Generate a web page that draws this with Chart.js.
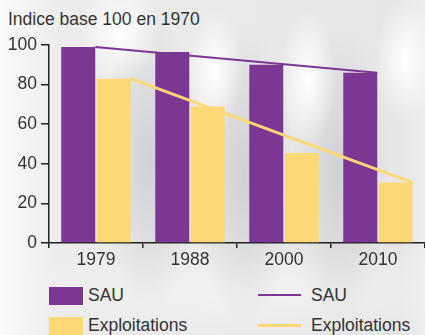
<!DOCTYPE html>
<html>
<head>
<meta charset="utf-8">
<script src="https://cdn.jsdelivr.net/npm/chart.js@4"></script>
<style>
  html, body { margin: 0; padding: 0; }
  body {
    width: 425px; height: 335px; overflow: hidden; position: relative;
    font-family: "Liberation Sans", Arial, sans-serif; color: #333;
    background:
      radial-gradient(ellipse 28px 60px at 215px 70px, #ffffff, rgba(255,255,255,0)),
      radial-gradient(ellipse 28px 70px at 308px 80px, #ffffff, rgba(255,255,255,0)),
      radial-gradient(ellipse 30px 60px at 405px 60px, #ffffff, rgba(255,255,255,0)),
      radial-gradient(ellipse 40px 50px at 120px 30px, #ffffff, rgba(255,255,255,0)),
      radial-gradient(ellipse 50px 150px at 150px 160px, #cfd0d2, rgba(230,230,230,0)),
      radial-gradient(ellipse 50px 150px at 245px 175px, #cfd0d2, rgba(230,230,230,0)),
      radial-gradient(ellipse 50px 150px at 340px 175px, #cfd0d2, rgba(230,230,230,0)),
      radial-gradient(ellipse 260px 50px at 250px 290px, #f2f2f2, rgba(240,240,240,0)),
      linear-gradient(90deg, #fafafa 0px, #ececec 60px, #e6e6e6 400px, #eeeeee 425px);
  }
  #title { position: absolute; left: 8px; top: 9px; font-size: 17.5px; }
  #wrap { position: absolute; left: 0; top: 0; width: 425px; height: 270px; }
  .leg { position: absolute; font-size: 17.5px; line-height: 20px; }
  .box { position: absolute; width: 34px; height: 18px; }
  .ln { position: absolute; width: 43px; }
</style>
</head>
<body>
<div id="title">Indice base 100 en 1970</div>
<div id="wrap"><canvas id="chart" width="425" height="270"></canvas></div>

<div class="box" style="left:49px; top:287px; background:#7b3793;"></div>
<div class="leg" style="left:88px; top:285px;">SAU</div>
<div class="box" style="left:49px; top:317px; background:#fdd876;"></div>
<div class="leg" style="left:88px; top:315px;">Exploitations</div>

<div class="ln" style="left:258px; top:294px; height:2px; background:#7b3793;"></div>
<div class="leg" style="left:311px; top:285px;">SAU</div>
<div class="ln" style="left:258px; top:324px; height:3px; background:#fdd876;"></div>
<div class="leg" style="left:311px; top:315px;">Exploitations</div>

<script>
const years = ["1979", "1988", "2000", "2010"];
const sau = [99, 96.5, 90, 86];
const exploitations = [83, 69, 45.5, 30.5];
const yTicks = [0, 20, 40, 60, 80, 100];

const purple = "#7b3793";
const yellow = "#fdd876";

// trend line: from the top right corner of the first bar to that of the last bar
const trendLines = {
  id: "trendLines",
  afterDatasetsDraw(chart) {
    const ctx = chart.ctx;
    const y = chart.scales.y;
    const widths = [2, 3];
    chart.data.datasets.forEach((ds, i) => {
      const bars = chart.getDatasetMeta(i).data;
      const first = bars[0];
      const lastBar = bars[bars.length - 1];
      ctx.save();
      ctx.strokeStyle = ds.backgroundColor;
      ctx.lineWidth = widths[i];
      ctx.beginPath();
      ctx.moveTo(first.x + first.width / 2, y.getPixelForValue(ds.data[0]));
      ctx.lineTo(lastBar.x + lastBar.width / 2, y.getPixelForValue(ds.data[ds.data.length - 1]));
      ctx.stroke();
      ctx.restore();
    });
  },
};

new Chart(document.getElementById("chart"), {
  type: "bar",
  data: {
    labels: years,
    datasets: [
      { label: "SAU", data: sau, backgroundColor: purple },
      { label: "Exploitations", data: exploitations, backgroundColor: yellow },
    ],
  },
  options: {
    responsive: false,
    animation: false,
    categoryPercentage: 0.755,
    barPercentage: 0.958,
    layout: { padding: { top: 45, right: 0, left: 0, bottom: 0 } },
    plugins: { legend: { display: false }, tooltip: { enabled: false } },
    scales: {
      x: {
        grid: { offset: true, drawOnChartArea: false, tickLength: 5, color: "#222", lineWidth: 1.5 },
        border: { color: "#222", width: 1.5 },
        ticks: { color: "#333", font: { size: 17.5, family: "Liberation Sans" }, padding: 2 },
        afterFit: (s) => { s.height = 27; },
      },
      y: {
        min: 0,
        max: 100,
        afterBuildTicks: (s) => { s.ticks = yTicks.map((v) => ({ value: v })); },
        grid: { drawOnChartArea: false, tickLength: 8, color: "#222", lineWidth: 1.5 },
        border: { color: "#222", width: 1.5 },
        ticks: { color: "#333", font: { size: 17.5, family: "Liberation Sans" }, padding: 4 },
        afterFit: (s) => { s.width = 49; },
      },
    },
  },
  plugins: [trendLines],
});
</script>
</body>
</html>
